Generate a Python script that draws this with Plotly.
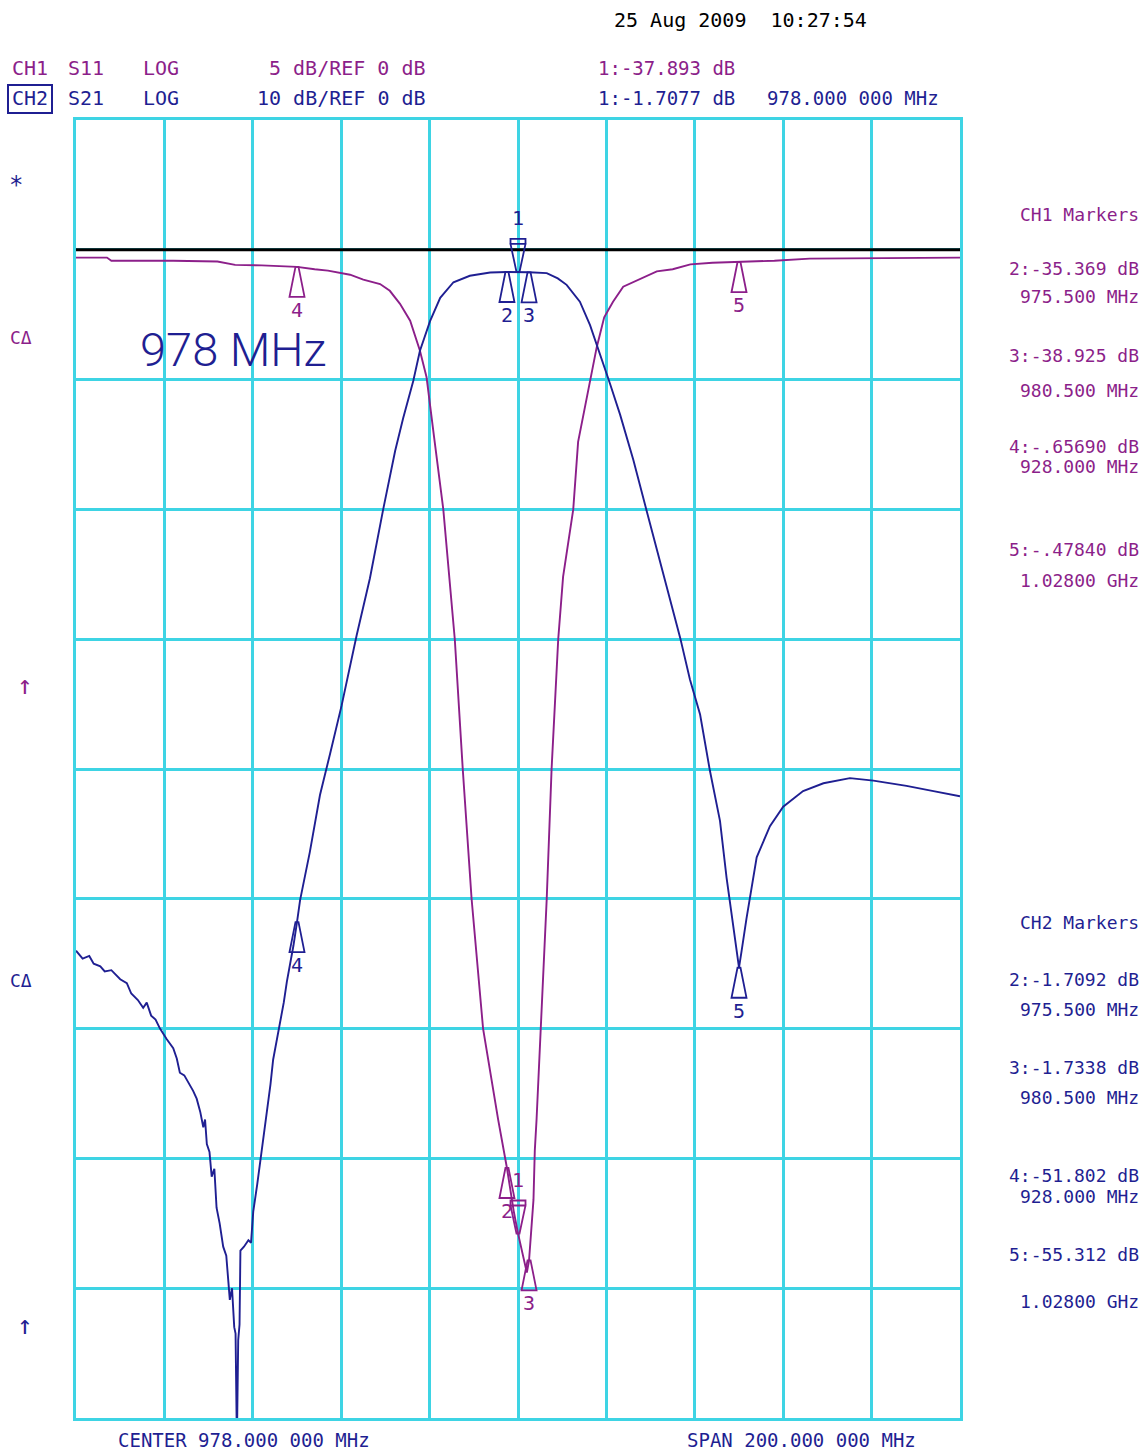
import plotly.graph_objects as go

# ---------------- data ----------------
# CH1: S11, LOG 5 dB/div, REF 0 dB
s11_freq = [878.0, 885.0, 886.0, 900.0, 910.0, 914.0, 920.0, 925.0, 928.0, 932.0,
            935.0, 940.0, 943.0, 946.8, 949.0, 951.3, 953.6, 955.8, 957.3, 959.0,
            961.1, 963.7, 965.5, 967.5, 970.1, 973.5, 975.5, 977.0, 978.0, 980.0,
            980.5, 981.5, 981.8, 982.2, 984.5, 985.6, 987.1, 988.2, 990.5, 991.6,
            994.3, 995.8, 997.5, 999.5, 1001.8, 1005.6, 1009.4, 1013.0, 1017.0, 1022.0,
            1028.0, 1036.0, 1044.0, 1060.0, 1078.0]
s11_db = [-0.30, -0.30, -0.42, -0.42, -0.45, -0.58, -0.60, -0.62, -0.657, -0.75,
          -0.80, -0.96, -1.15, -1.32, -1.58, -2.08, -2.73, -3.88, -4.90, -7.20,
          -10.0, -15.0, -20.0, -25.0, -30.0, -33.5, -35.37, -37.0, -37.89, -39.4,
          -38.93, -36.6, -34.7, -33.5, -25.0, -20.0, -15.0, -12.6, -10.0, -7.4,
          -5.0, -3.76, -2.6, -2.0, -1.42, -1.12, -0.83, -0.75, -0.56, -0.50,
          -0.478, -0.42, -0.34, -0.32, -0.30]

# CH2: S21, LOG 10 dB/div, REF 0 dB
s21_freq = [878.0, 879.5, 881.0, 882.0, 883.5, 884.5, 886.0, 888.0, 889.5, 890.5,
            892.0, 893.2, 894.0, 895.0, 896.0, 897.0, 898.5, 900.0, 900.8, 901.5,
            902.5, 903.5, 904.5, 905.3, 906.1, 906.8, 907.2, 907.6, 908.2, 908.7,
            909.3, 909.8, 910.5, 911.3, 912.0, 912.8, 913.3, 913.8, 914.1, 914.4,
            914.7, 915.0, 915.2, 916.0, 917.0, 917.6, 918.1, 919.0, 919.6, 920.4,
            921.1, 922.0, 922.6, 923.4, 924.2, 925.0, 925.7, 926.5, 927.2, 928.0,
            928.7, 930.9, 933.2, 935.5, 938.1, 941.5, 944.5, 947.5, 950.2, 952.0,
            954.3, 955.8, 958.1, 960.4, 963.4, 967.1, 971.7, 975.5, 978.0, 980.5,
            984.5, 987.0, 989.0, 992.0, 994.3, 995.8, 997.3, 998.8, 1001.1, 1004.1,
            1007.1, 1010.1, 1012.4, 1014.7, 1016.9, 1019.2, 1021.4, 1023.7, 1025.2, 1026.7,
            1027.5, 1028.0, 1028.6, 1029.7, 1032.0, 1035.0, 1038.0, 1042.5, 1047.1, 1053.1,
            1058.4, 1065.9, 1072.0, 1078.0]
s21_db = [-54.0, -54.6, -54.4, -55.0, -55.2, -55.6, -55.5, -56.2, -56.5, -57.3,
          -57.8, -58.4, -58.0, -59.0, -59.3, -60.0, -60.8, -61.5, -62.3, -63.4,
          -63.6, -64.2, -64.8, -65.4, -66.4, -67.6, -67.0, -68.9, -69.5, -71.4,
          -70.8, -73.8, -75.0, -76.8, -77.5, -80.9, -80.0, -83.0, -83.5, -92.0,
          -84.0, -82.8, -77.1, -76.8, -76.3, -76.5, -74.1, -72.0, -70.5, -68.5,
          -66.4, -64.3, -62.4, -61.0, -59.4, -58.0, -56.4, -55.0, -53.6, -51.8,
          -50.1, -46.4, -42.0, -38.8, -35.1, -29.7, -25.3, -20.0, -15.5, -13.0,
          -10.1, -7.8, -5.5, -3.7, -2.5, -2.0, -1.75, -1.71, -1.71, -1.73,
          -1.8, -2.2, -2.7, -4.0, -5.8, -7.3, -8.7, -10.3, -12.7, -16.2,
          -20.1, -24.0, -26.8, -29.9, -33.1, -35.8, -40.1, -44.0, -48.4, -52.3,
          -54.2, -55.3, -54.0, -51.5, -46.8, -44.4, -42.9, -41.7, -41.1, -40.7,
          -40.9, -41.3, -41.7, -42.1]

# markers
mk_labels = ["1", "2", "3", "4", "5"]
mk_freq = [978.0, 975.5, 980.5, 928.0, 1028.0]
ch1_mk_db = [-37.893, -35.369, -38.925, -0.6569, -0.4784]
ch2_mk_db = [-1.7077, -1.7092, -1.7338, -51.802, -55.312]

# display settings
f_center, f_span = 978.0, 200.0
ch1_scale, ch2_scale = 5, 10        # dB / div
ref_db = 0
n_div = 10
ref_div_from_top = 1

# ---------------- styling ----------------
W, H = 1147, 1456
PL, PR, PT, PB = 76, 960, 120, 1418
MAG = "#8C1F8A"
BLU = "#1F1F92"
CYAN = "#3ED4E4"
MONO = "DejaVu Sans Mono"


def px(x):
    return (x - PL) / (PR - PL)


def py(y):
    return (PB - y) / (PB - PT)


f0, f1 = f_center - f_span / 2, f_center + f_span / 2
y1_top = ref_db + ref_div_from_top * ch1_scale
y2_top = ref_db + ref_div_from_top * ch2_scale
y1_rng = [y1_top - n_div * ch1_scale, y1_top]
y2_rng = [y2_top - n_div * ch2_scale, y2_top]

fig = go.Figure()
fig.add_trace(go.Scatter(x=s21_freq, y=s21_db, yaxis="y2", mode="lines",
                         line=dict(color=BLU, width=1.9), showlegend=False,
                         hoverinfo="skip"))
fig.add_trace(go.Scatter(x=s11_freq, y=s11_db, yaxis="y", mode="lines",
                         line=dict(color=MAG, width=1.9), showlegend=False,
                         hoverinfo="skip"))

shapes = []
annotations = []

# reference line and end triangles
shapes.append(dict(type="line", xref="x", yref="y", x0=f0, x1=f1, y0=ref_db, y1=ref_db,
                   line=dict(color="black", width=3), layer="above"))
shapes.append(dict(type="path", xref="x", yref="y", xsizemode="pixel", ysizemode="pixel",
                   xanchor=f0, yanchor=ref_db, path="M -12,7 L 0,0 L -12,-7 Z",
                   line=dict(color="black", width=2), fillcolor="white"))
shapes.append(dict(type="path", xref="x", yref="y", xsizemode="pixel", ysizemode="pixel",
                   xanchor=f1, yanchor=ref_db, path="M 10,7 L 0,0 L 10,-7 Z",
                   line=dict(color="black", width=2), fillcolor="white"))

UP = "M -1.5,0 L 1.5,0 L 7.5,-30 L -7.5,-30 Z"
DOWN = "M -1.5,0 L 1.5,0 L 7.5,28 L -7.5,28 Z M -7.5,28 L 7.5,28 L 7.5,33 L -7.5,33 Z"


def add_markers(dbs, yref, color):
    for lab, f, v in zip(mk_labels, mk_freq, dbs):
        active = lab == "1"
        shapes.append(dict(type="path", xref="x", yref=yref, xsizemode="pixel",
                           ysizemode="pixel", xanchor=f, yanchor=v,
                           path=DOWN if active else UP,
                           line=dict(color=color, width=1.8), fillcolor="rgba(0,0,0,0)"))
        annotations.append(dict(x=f, y=v, xref="x", yref=yref, text=lab, showarrow=False,
                                yshift=54 if active else -43,
                                font=dict(family=MONO, size=20, color=color)))


add_markers(ch1_mk_db, "y", MAG)
add_markers(ch2_mk_db, "y2", BLU)


def txt(text, x, y, color, size=20, anchor="left", family=MONO, weight="normal"):
    annotations.append(dict(x=px(x), y=py(y), xref="paper", yref="paper", text=text,
                            showarrow=False, xanchor=anchor, yanchor="middle",
                            font=dict(family=family, size=size, color=color, weight=weight)))


# header
txt("25 Aug 2009  10:27:54", 612, 20, "black", 20)
txt("CH1", 10, 68, MAG)
txt("S11", 66, 68, MAG)
txt("LOG", 141, 68, MAG)
txt(f"{ch1_scale} dB/REF {ref_db} dB", 428, 68, MAG, anchor="right")
txt(f"1:{ch1_mk_db[0]:.3f} dB", 596, 68, MAG, 19)
txt("CH2", 10, 98, BLU)
txt("S21", 66, 98, BLU)
txt("LOG", 141, 98, BLU)
txt(f"{ch2_scale} dB/REF {ref_db} dB", 428, 98, BLU, anchor="right")
txt(f"1:{ch2_mk_db[0]:.4f} dB", 596, 98, BLU, 19)
txt("978.000 000 MHz", 941, 98, BLU, 19, anchor="right")
shapes.append(dict(type="rect", xref="paper", yref="paper", x0=px(8), x1=px(52),
                   y0=py(85), y1=py(113), line=dict(color=BLU, width=2)))

# left side symbols
txt("*", 7, 185, BLU, 24)
txt("CΔ", 8, 337, MAG, 18)
txt("↑", 15, 685, MAG, 26)
txt("CΔ", 8, 980, BLU, 18)
txt("↑", 15, 1325, BLU, 26)

# big label
txt("978 MHz", 138, 349, BLU, 47, family="Roboto", weight=300)

# right marker panels
RX = 1141
txt("CH1 Markers", RX, 214, MAG, 18, anchor="right")
txt(f"2:{ch1_mk_db[1]:.3f} dB", RX, 268, MAG, 18, anchor="right")
txt("975.500 MHz", RX, 296, MAG, 18, anchor="right")
txt(f"3:{ch1_mk_db[2]:.3f} dB", RX, 355, MAG, 18, anchor="right")
txt("980.500 MHz", RX, 390, MAG, 18, anchor="right")
txt("4:-.65690 dB", RX, 446, MAG, 18, anchor="right")
txt("928.000 MHz", RX, 467, MAG, 18, anchor="right")
txt("5:-.47840 dB", RX, 549, MAG, 18, anchor="right")
txt("1.02800 GHz", RX, 580, MAG, 18, anchor="right")

txt("CH2 Markers", RX, 922, BLU, 18, anchor="right")
txt(f"2:{ch2_mk_db[1]:.4f} dB", RX, 979, BLU, 18, anchor="right")
txt("975.500 MHz", RX, 1009, BLU, 18, anchor="right")
txt(f"3:{ch2_mk_db[2]:.4f} dB", RX, 1067, BLU, 18, anchor="right")
txt("980.500 MHz", RX, 1097, BLU, 18, anchor="right")
txt(f"4:{ch2_mk_db[3]:.3f} dB", RX, 1175, BLU, 18, anchor="right")
txt("928.000 MHz", RX, 1196, BLU, 18, anchor="right")
txt(f"5:{ch2_mk_db[4]:.3f} dB", RX, 1254, BLU, 18, anchor="right")
txt("1.02800 GHz", RX, 1301, BLU, 18, anchor="right")

# bottom
txt(f"CENTER {f_center:.3f} 000 MHz", 116, 1440, BLU, 19)
txt(f"SPAN {f_span:.3f} 000 MHz", 685, 1440, BLU, 19)

fig.update_layout(
    width=W, height=H,
    margin=dict(l=PL, r=W - PR, t=PT, b=H - PB, pad=0),
    paper_bgcolor="white", plot_bgcolor="white",
    showlegend=False,
    xaxis=dict(range=[f0, f1], tick0=f0, dtick=f_span / n_div, showticklabels=False,
               showgrid=True, gridcolor=CYAN, gridwidth=2.5, zeroline=False,
               showline=True, linecolor=CYAN, linewidth=2.5, mirror=True, ticks=""),
    yaxis=dict(range=y1_rng, tick0=y1_rng[0], dtick=ch1_scale, showticklabels=False,
               showgrid=True, gridcolor=CYAN, gridwidth=2.5, zeroline=False,
               showline=True, linecolor=CYAN, linewidth=2.5, mirror=True, ticks=""),
    yaxis2=dict(range=y2_rng, overlaying="y", showticklabels=False, showgrid=False,
                zeroline=False, showline=False, ticks=""),
    shapes=shapes,
    annotations=annotations,
)

fig.write_html("out.html", config={"displayModeBar": False},
               post_script="document.body.style.margin='0';document.body.style.overflow='hidden';")
